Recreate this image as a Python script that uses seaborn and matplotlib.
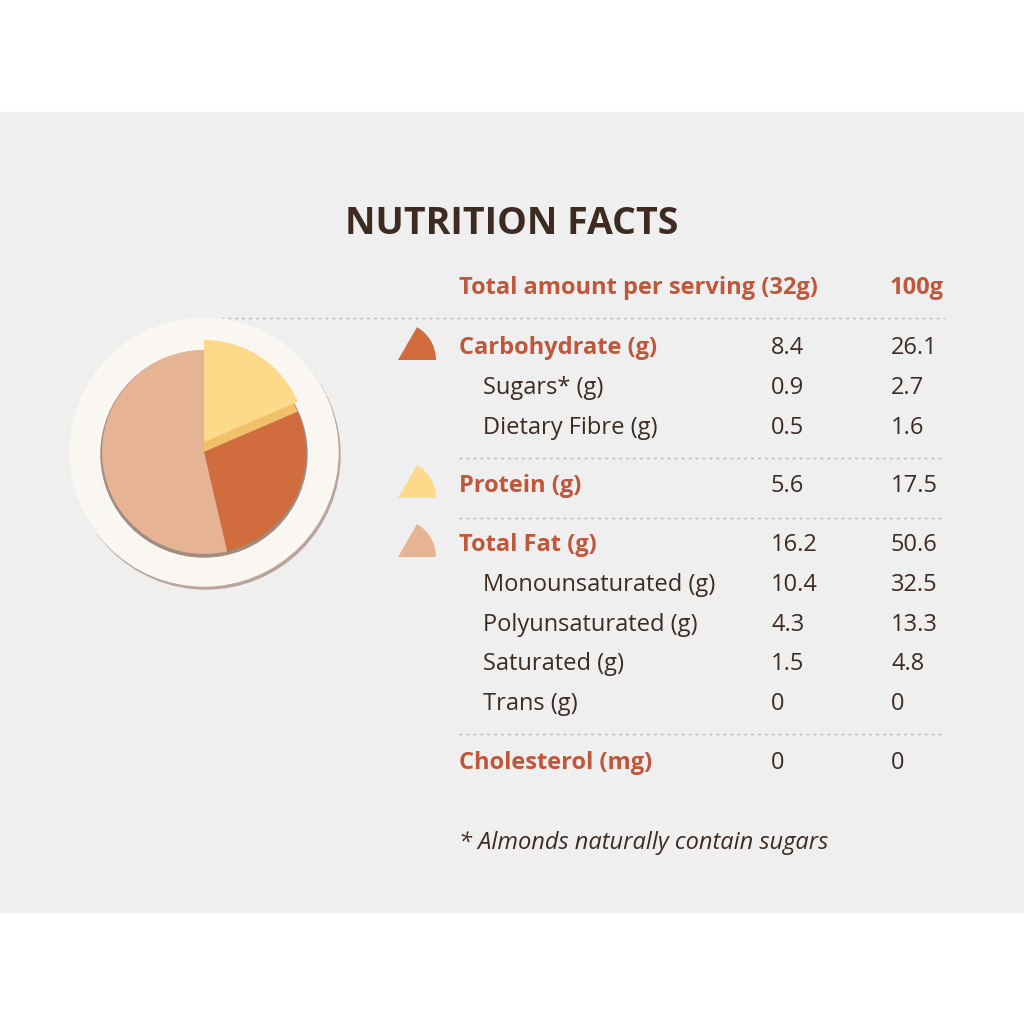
import matplotlib
matplotlib.use("Agg")
import matplotlib.pyplot as plt
import seaborn as sns
from matplotlib.patches import Rectangle, Circle, Wedge

sns.set_theme(style="white")
plt.rcParams['font.family'] = ['Open Sans', 'DejaVu Sans']

# data
macro_names = ["Protein", "Carbohydrate", "Fat"]
macro_values = [5.6, 8.4, 16.2]
macro_colors = ["#fdd98a", "#d06c3e", "#e6b495"]

row_labels = ["Carbohydrate (g)", "Sugars* (g)", "Dietary Fibre (g)", "Protein (g)",
              "Total Fat (g)", "Monounsaturated (g)", "Polyunsaturated (g)",
              "Saturated (g)", "Trans (g)", "Cholesterol (mg)"]
row_main = [True, False, False, True, True, False, False, False, False, True]
per_serving = ["8.4", "0.9", "0.5", "5.6", "16.2", "10.4", "4.3", "1.5", "0", "0"]
per_100g = ["26.1", "2.7", "1.6", "17.5", "50.6", "32.5", "13.3", "4.8", "0", "0"]
row_y = [348, 388, 428, 486, 545, 585, 625, 664, 704, 763]

ACCENT = "#c0573a"
DARK = "#3d2b22"
FS = 17

fig = plt.figure(figsize=(10.24, 10.24), dpi=100)
ax = fig.add_axes([0, 0, 1, 1])

def Y(y):
    return 1024 - y

ax.add_patch(Rectangle((0, Y(912)), 1024, 800, color="#efefef", zorder=0))

# plate
ax.add_patch(Circle((206, Y(455)), 134, color="#b9a59c", zorder=1))
ax.add_patch(Circle((204, Y(452)), 134, color="#faf6f1", zorder=2))
ax.add_patch(Circle((204, Y(454)), 103, color="#a08c80", zorder=2.5))

cx, cy, r = 204, Y(452), 102
# base pie: carbs + fat, protein as a darker side layer
ax.pie(macro_values, colors=["#f3c06a", macro_colors[1], macro_colors[2]],
       startangle=90, counterclock=False, center=(cx, cy), radius=r,
       wedgeprops=dict(linewidth=0, zorder=3))
# lifted protein wedge
ang = 360 * macro_values[0] / sum(macro_values)
ax.add_patch(Wedge((cx, cy + 10), r, 90 - ang, 90, color=macro_colors[0], lw=0, zorder=4))

# legend icons
for y, col in zip([348, 486, 545], [macro_colors[1], macro_colors[0], macro_colors[2]]):
    ax.add_patch(Wedge((398, Y(y + 12)), 38, 0, 60, color=col, lw=0, zorder=4))

# title and header
ax.text(512, Y(224), "NUTRITION FACTS", ha="center", va="center",
        fontsize=27, fontweight="bold", color=DARK)
ax.text(459, Y(288), "Total amount per serving (32g)", ha="left", va="center",
        fontsize=FS, fontweight="bold", color=ACCENT)
ax.text(944, Y(288), "100g", ha="right", va="center",
        fontsize=FS, fontweight="bold", color=ACCENT)

# separators
for x0, y in [(200, 318), (459, 458), (459, 518), (459, 734)]:
    ax.plot([x0, 945], [Y(y), Y(y)], color="#b8b8b8", lw=1, ls=(0, (2, 3)), zorder=1)

for lab, main, a, b, y in zip(row_labels, row_main, per_serving, per_100g, row_y):
    if main:
        ax.text(459, Y(y), lab, ha="left", va="center", fontsize=FS,
                fontweight="bold", color=ACCENT)
    else:
        ax.text(483, Y(y), lab, ha="left", va="center", fontsize=FS, color=DARK)
    ax.text(771, Y(y), a, ha="left", va="center", fontsize=FS, color=DARK)
    ax.text(891, Y(y), b, ha="left", va="center", fontsize=FS, color=DARK)

ax.text(459, Y(843), "* Almonds naturally contain sugars", ha="left", va="center",
        fontsize=FS, fontstyle="italic", color=DARK)

ax.set_xlim(0, 1024)
ax.set_ylim(0, 1024)
ax.set_aspect("auto")
ax.axis("off")
fig.savefig("out.png", dpi=100, facecolor="white")
